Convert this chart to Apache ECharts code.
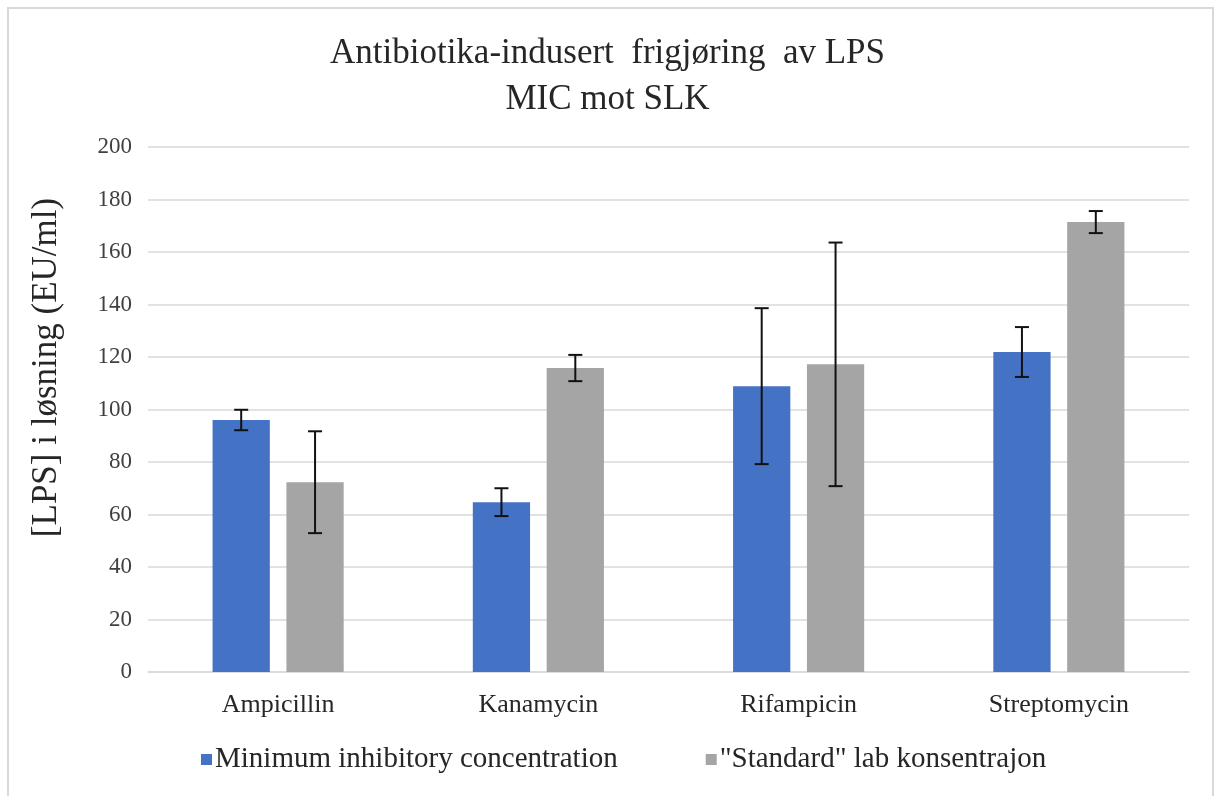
<!DOCTYPE html>
<html>
<head>
<meta charset="utf-8">
<script src="https://cdn.jsdelivr.net/npm/echarts@6/dist/echarts.min.js"></script>
<style>
html,body{margin:0;padding:0;background:#fff;}
#chart{width:1215px;height:796px;}
</style>
</head>
<body>
<div id="chart"></div>
<script>
const categories = ['Ampicillin', 'Kanamycin', 'Rifampicin', 'Streptomycin'];
const micValues = [96.0, 64.7, 108.9, 121.9];
const micErrors = [3.9, 5.3, 29.7, 9.5];
const slkValues = [72.3, 115.8, 117.2, 171.4];
const slkErrors = [19.4, 5.0, 46.4, 4.2];
const seriesNames = ['Minimum inhibitory concentration', '"Standard" lab konsentrajon'];
const titleLines = ['Antibiotika-indusert  frigjøring  av LPS', 'MIC mot SLK'];
const yAxisName = '[LPS] i løsning (EU/ml)';

const FONT = '"Liberation Serif", "Times New Roman", serif';
const BAR_W = 0.22, BAR_GAP = 0.29;

function errData(vals, errs) {
  return vals.map((v, i) => [i, v - errs[i], v + errs[i]]);
}
function errSeries(vals, errs, sign) {
  return {
    type: 'custom',
    silent: true,
    z: 10,
    data: errData(vals, errs),
    encode: { x: 0, y: [1, 2] },
    renderItem: function (params, api) {
      const band = api.size([1, 0])[0];
      const off = sign * band * BAR_W * (1 + BAR_GAP) / 2;
      const lo = api.coord([api.value(0), api.value(1)]);
      const hi = api.coord([api.value(0), api.value(2)]);
      const x = lo[0] + off;
      const cap = 7;
      const style = { stroke: '#111', lineWidth: 2 };
      return {
        type: 'group',
        children: [
          { type: 'line', shape: { x1: x, y1: lo[1], x2: x, y2: hi[1] }, style: style },
          { type: 'line', shape: { x1: x - cap, y1: lo[1], x2: x + cap, y2: lo[1] }, style: style },
          { type: 'line', shape: { x1: x - cap, y1: hi[1], x2: x + cap, y2: hi[1] }, style: style }
        ]
      };
    }
  };
}

const chart = echarts.init(document.getElementById('chart'));
chart.setOption({
  animation: false,
  backgroundColor: '#fff',
  textStyle: { fontFamily: FONT },
  graphic: [{
    type: 'rect',
    shape: { x: 8, y: 8, width: 1205, height: 800 },
    style: { fill: 'none', stroke: '#d9d9d9', lineWidth: 2 },
    silent: true
  }],
  title: {
    text: titleLines.join('\n'),
    left: 'center',
    top: 26,
    textStyle: { fontFamily: FONT, fontSize: 35, fontWeight: 'normal', color: '#262626', lineHeight: 46 }
  },
  legend: {
    bottom: 17,
    left: 196,
    itemWidth: 11,
    itemHeight: 11,
    itemGap: 88,
    icon: 'rect',
    data: seriesNames,
    textStyle: { fontFamily: FONT, fontSize: 29, color: '#262626', padding: [0, 0, 0, -2] }
  },
  grid: { left: 148, right: 26, top: 147, bottom: 124 },
  xAxis: {
    type: 'category',
    data: categories,
    axisLine: { lineStyle: { color: '#d9d9d9', width: 1.5 } },
    axisTick: { show: false },
    axisLabel: { fontFamily: FONT, fontSize: 26, color: '#262626', margin: 20 }
  },
  yAxis: {
    type: 'value',
    min: 0,
    max: 200,
    interval: 20,
    name: yAxisName,
    nameLocation: 'middle',
    nameGap: 84,
    nameTextStyle: { fontFamily: FONT, fontSize: 35, color: '#262626', padding: [0, 0, 0, 84] },
    axisLine: { show: false },
    axisTick: { show: false },
    axisLabel: { fontFamily: FONT, fontSize: 23, color: '#404040', margin: 16 },
    splitLine: { lineStyle: { color: '#d9d9d9', width: 1.5 } }
  },
  series: [
    {
      name: seriesNames[0],
      type: 'bar',
      data: micValues,
      barWidth: (BAR_W * 100) + '%',
      barGap: (BAR_GAP * 100) + '%',
      itemStyle: { color: '#4472C4' }
    },
    {
      name: seriesNames[1],
      type: 'bar',
      data: slkValues,
      barWidth: (BAR_W * 100) + '%',
      barGap: (BAR_GAP * 100) + '%',
      itemStyle: { color: '#A5A5A5' }
    },
    errSeries(micValues, micErrors, -1),
    errSeries(slkValues, slkErrors, 1)
  ]
});
</script>
</body>
</html>
